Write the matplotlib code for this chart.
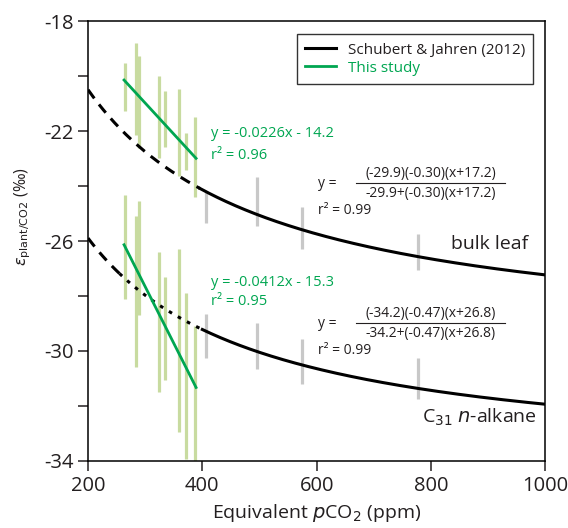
import numpy as np
import matplotlib.pyplot as plt

plt.rcParams["font.family"] = ["Open Sans", "DejaVu Sans"]
plt.rcParams["axes.unicode_minus"] = False

# Schubert & Jahren (2012) hyperbolic fits: A, B, C
leaf_fit = [-29.9, -0.30, 17.2]
alk_fit = [-34.2, -0.47, 26.8]

# this study: linear fits (slope, intercept) over pCO2 range
leaf_lin = [-0.0226, -14.2]
alk_lin = [-0.0412, -15.3]
fit_x = [263, 389]

# this study ranges (equivalent pCO2, low, high)
study_x = [264, 284, 290, 325, 335, 360, 372, 388]
leaf_lo = [-21.26, -22.15, -22.61, -22.97, -22.57, -23.62, -23.42, -24.41]
leaf_hi = [-19.54, -18.81, -19.27, -20.00, -20.53, -20.47, -22.08, -21.49]
alk_lo = [-28.11, -30.59, -28.70, -31.48, -31.04, -32.96, -33.94, -33.99]
alk_hi = [-24.33, -25.08, -24.56, -26.41, -27.30, -26.29, -27.90, -29.08]

# modern reference ranges
mod_x = [406, 496, 575, 778]
mod_leaf_lo = [-25.36, -25.44, -26.29, -27.05]
mod_leaf_hi = [-24.21, -23.66, -24.75, -25.75]
mod_alk_lo = [-30.24, -30.67, -31.21, -31.76]
mod_alk_hi = [-28.65, -28.99, -29.58, -30.24]

GREEN = "#00a651"
LIGHT = "#c8dba0"
GRAY = "#c8c8c8"
DARK = "#231f20"


def hyper(x, p):
    a, b, c = p
    return a * b * (x + c) / (a + b * (x + c))


fig = plt.figure(figsize=(5.68, 5.28), dpi=100)
ax = fig.add_axes([0.155, 0.127, 0.805, 0.833])

ax.vlines(study_x, leaf_lo, leaf_hi, color=LIGHT, lw=2.3, zorder=1)
ax.vlines(study_x, alk_lo, alk_hi, color=LIGHT, lw=2.3, zorder=1)
ax.vlines(mod_x, mod_leaf_lo, mod_leaf_hi, color=GRAY, lw=2.3, zorder=1)
ax.vlines(mod_x, mod_alk_lo, mod_alk_hi, color=GRAY, lw=2.3, zorder=1)

# curves: dashed below ~400 ppm, solid above
xd = np.linspace(200, 396, 200)
xs = np.linspace(396, 1000, 400)
ax.plot(xd, hyper(xd, leaf_fit), color="k", lw=2.2, ls=(0, (3.5, 2.5)), zorder=2)
ax.plot(xs, hyper(xs, leaf_fit), color="k", lw=2.2, zorder=2,
        label="Schubert & Jahren (2012)")
xa = np.linspace(200, 255, 60)
xb = np.linspace(255, 400, 120)
ax.plot(xa, hyper(xa, alk_fit), color="k", lw=2.2, ls=(0, (3.5, 2.5)), zorder=2)
ax.plot(xb, hyper(xb, alk_fit), color="k", lw=2.2, ls=(0, (1.2, 2.2)), zorder=2)
xs2 = np.linspace(400, 1000, 400)
ax.plot(xs2, hyper(xs2, alk_fit), color="k", lw=2.2, zorder=2)

fx = np.array(fit_x)
ax.plot(fx, leaf_lin[0] * fx + leaf_lin[1], color=GREEN, lw=2.0, zorder=3,
        label="This study")
ax.plot(fx, alk_lin[0] * fx + alk_lin[1], color=GREEN, lw=2.0, zorder=3)

ax.set_xlim(200, 1000)
ax.set_ylim(-34, -18)
ax.set_xticks([200, 400, 600, 800, 1000])
ax.set_yticks([-18, -22, -26, -30, -34])
ax.set_yticks([-20, -24, -28, -32], minor=True)
ax.tick_params(which="both", direction="out", length=7, width=1.1, labelsize=14.5,
               colors=DARK)
ax.tick_params(axis="x", pad=4)
for s in ax.spines.values():
    s.set_linewidth(1.1)

ax.set_xlabel("Equivalent $\\it{p}$CO$_2$ (ppm)", fontsize=14, labelpad=4,
              color=DARK)
ax.set_ylabel("$\\epsilon_{\\rm plant/CO2}$ (‰)", fontsize=11.5, color=DARK)
ax.yaxis.set_label_coords(-0.12, 0.555)

leg = ax.legend(loc="upper right", bbox_to_anchor=(0.974, 0.97), fontsize=11,
                frameon=True, fancybox=False, edgecolor="k", handlelength=2.0,
                borderpad=0.55, labelspacing=0.2, borderaxespad=0)
leg.get_frame().set_linewidth(1.0)
leg.get_texts()[0].set_color(DARK)
leg.get_texts()[1].set_color(GREEN)

# equations
ax.text(415, -22.1, "y = %.4fx - %.1f" % (leaf_lin[0], -leaf_lin[1]), color=GREEN,
        fontsize=10.5, va="center")
ax.text(415, -22.9, "r² = 0.96", color=GREEN, fontsize=10.5, va="center")
ax.text(415, -27.5, "y = %.4fx - %.1f" % (alk_lin[0], -alk_lin[1]), color=GREEN,
        fontsize=10.5, va="center")
ax.text(415, -28.2, "r² = 0.95", color=GREEN, fontsize=10.5, va="center")


def frac_eq(y0, p, r2):
    a, b, c = p
    num = "(%.1f)(%.2f)(x+%.1f)" % (a, b, c)
    den = "%.1f+(%.2f)(x+%.1f)" % (a, b, c)
    ax.text(603, y0, "y =", fontsize=10, va="center", color=DARK)
    ax.text(799, y0 + 0.37, num, fontsize=10, va="center", ha="center",
            color=DARK)
    ax.text(799, y0 - 0.37, den, fontsize=10, va="center", ha="center",
            color=DARK)
    ax.plot([668, 930], [y0, y0], color=DARK, lw=0.8)
    ax.text(603, y0 - 1.0, "r² = %.2f" % r2, fontsize=10, va="center",
            color=DARK)


frac_eq(-23.9, leaf_fit, 0.99)
frac_eq(-29.0, alk_fit, 0.99)

ax.text(970, -26.1, "bulk leaf", fontsize=14, ha="right", va="center",
        color=DARK)
ax.text(985, -32.4, "C$_{31}$ $\\it{n}$-alkane", fontsize=14, ha="right",
        va="center", color=DARK)

fig.savefig("out.png", dpi=100)
